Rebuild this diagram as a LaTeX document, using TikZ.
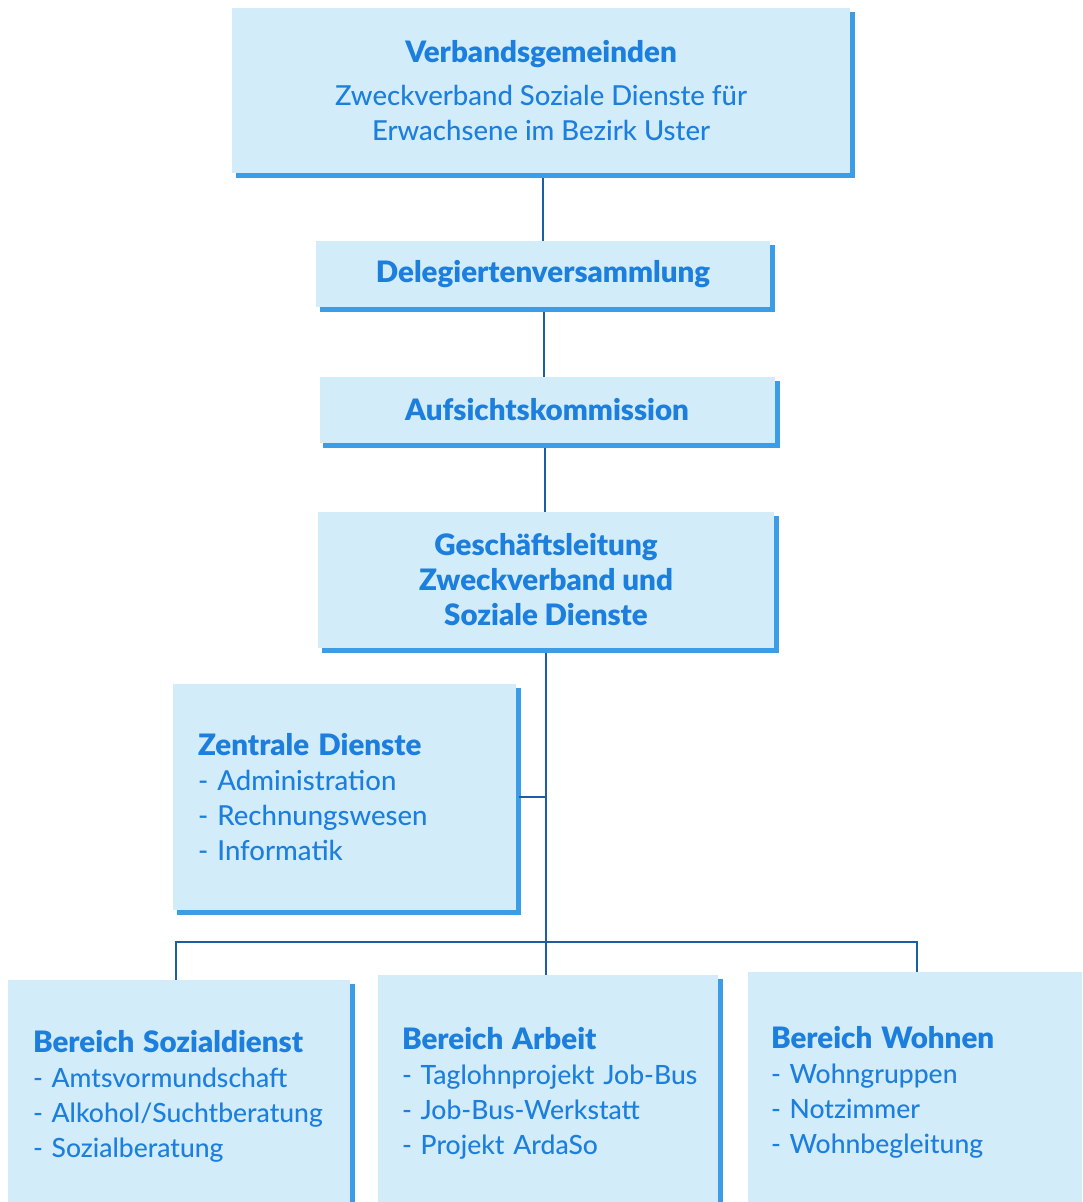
\documentclass[tikz,border=0pt]{standalone}
\usepackage{fontspec}
\setmainfont{Lato}[UprightFont={* Medium}, BoldFont={* Black}]
\usetikzlibrary{calc}
\definecolor{boxfill}{HTML}{D2ECF9}
\definecolor{txtblue}{HTML}{1C7FDE}
\definecolor{shadowblue}{HTML}{3A9DE6}
\definecolor{linkblue}{HTML}{1B5EA6}
\tikzset{
  orgbox/.style={fill=boxfill, draw=none, inner sep=0pt, text=txtblue, font=\fontsize{27.5}{35}\selectfont},
  listbox/.style={orgbox, align=left, font=\fontsize{26.5}{35}\selectfont},
  orgshadow/.style={draw=shadowblue, line width=5pt},
  orglink/.style={draw=linkblue, line width=2.5pt},
}
\newcommand{\hd}[1]{{\fontsize{29.5}{35}\selectfont\bfseries #1}}
\newcommand{\itm}[1]{\mbox{- #1}}
\begin{document}
\begin{tikzpicture}[x=1pt,y=-1pt]
\clip (0,0) rectangle (1082,1202);
\fill[white] (0,0) rectangle (1082,1202);
% boxes
\node[orgbox, minimum width=618, minimum height=165, align=center] (vg) at (541,90.5)
  {\hd{Verbandsgemeinden}\\[8pt]Zweckverband Soziale Dienste für\\Erwachsene im Bezirk Uster};
\node[orgbox, minimum width=454, minimum height=66, align=center] (dv) at (543,274)
  {\hd{Delegiertenversammlung}};
\node[orgbox, minimum width=455, minimum height=66, align=center] (ak) at (547,410)
  {\hd{Aufsichtskommission}};
\node[orgbox, minimum width=456, minimum height=136, align=center] (gl) at (546,580)
  {\hd{Geschäftsleitung}\\\hd{Zweckverband und}\\\hd{Soziale Dienste}};
\node[listbox, minimum width=343, minimum height=226, text width=293, font=\fontsize{27.5}{35}\selectfont] (zd) at (344.5,797)
  {\hd{Zentrale Dienste}\\\itm{Administration}\\\itm{Rechnungswesen}\\\itm{Informatik}};
\node[listbox, minimum width=342, minimum height=232, text width=292] (sd) at (179,1096)
  {\hd{Bereich Sozialdienst}\\\itm{Amtsvormundschaft}\\\itm{Alkohol/Suchtberatung}\\\itm{Sozialberatung}};
\node[listbox, minimum width=340, minimum height=236, text width=292] (ar) at (548,1093)
  {\hd{Bereich Arbeit}\\\itm{Taglohnprojekt Job-Bus}\\\itm{Job-Bus-Werkstatt}\\\itm{Projekt ArdaSo}};
\node[listbox, minimum width=336, minimum height=240, text width=290] (wo) at (916,1092)
  {\hd{Bereich Wohnen}\\\itm{Wohngruppen}\\\itm{Notzimmer}\\\itm{Wohnbegleitung}};
% shadows (right and bottom edges)
\foreach \n in {vg,dv,ak,gl,zd,sd,ar,wo}{
  \draw[orgshadow] ($(\n.south west)+(4,2.5)$) -- ($(\n.south east)+(2.5,2.5)$) -- ($(\n.north east)+(2.5,4)$);
}
% connectors
\coordinate (bus) at (546,942);
\draw[orglink] ($(vg.south)+(2,5)$) -- (dv.north -| 543,0);
\draw[orglink] ($(dv.south)+(1,5)$) -- (ak.north -| 544,0);
\draw[orglink] ($(ak.south)+(-2,5)$) -- (gl.north -| 545,0);
\draw[orglink] ($(gl.south)+(0,5)$) -- (ar.north -| 546,0);
\draw[orglink] ($(zd.east)+(3,0)$) -- (zd.east -| bus);
\draw[orglink] (sd.north -| 176,0) |- (bus) -| (wo.north -| 917,0);
\end{tikzpicture}
\end{document}
